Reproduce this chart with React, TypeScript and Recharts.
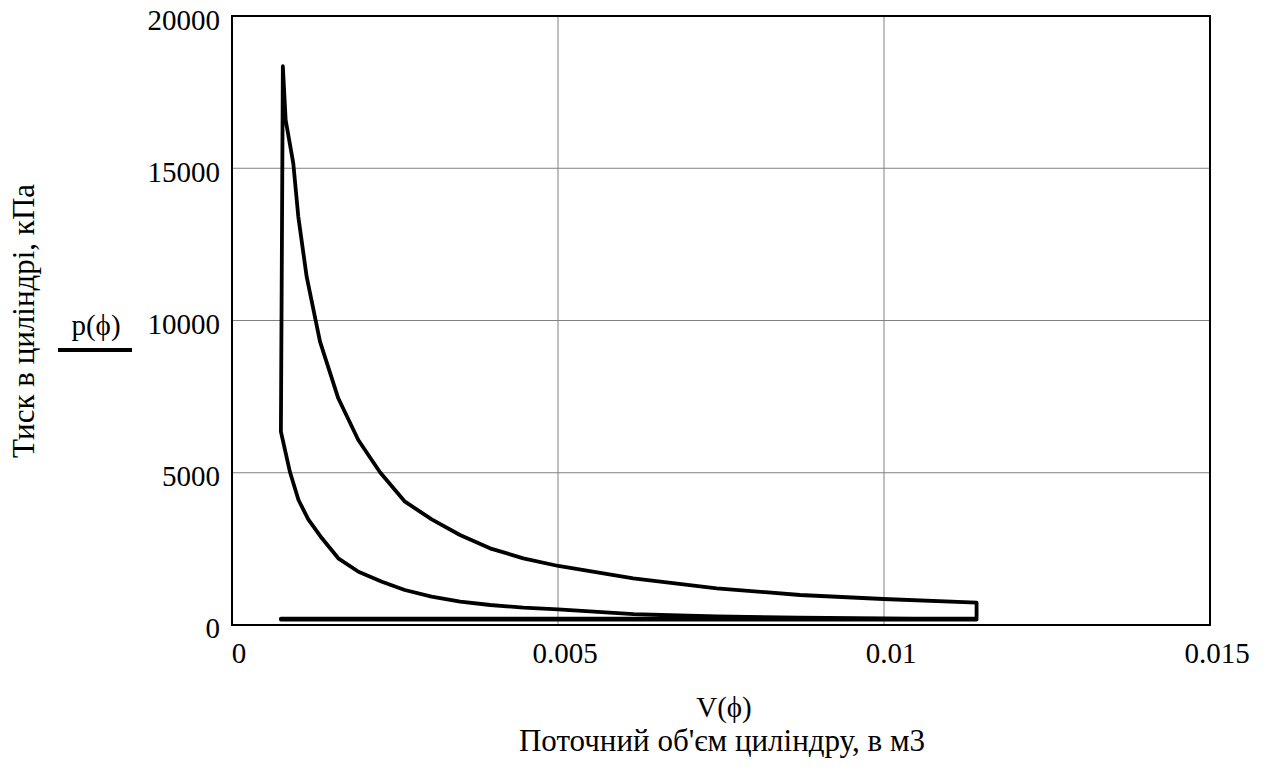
import React from "react";
import {
  LineChart,
  Line,
  XAxis,
  YAxis,
  CartesianGrid,
  ReferenceArea,
} from "recharts";

// Volume ticks (m3) and pressure ticks (kPa)
const xTicks = [0, 0.005, 0.01, 0.015];
const yTicks = [0, 5000, 10000, 15000, 20000];

// Intake stroke
const intakeV = [0.00075, 0.01142];
const intakeP = [180, 180];

// Compression stroke (from V max to V min)
const compressionV = [
  0.01142, 0.01, 0.0087, 0.00743, 0.00616, 0.005, 0.00447, 0.00396, 0.0035,
  0.00306, 0.00265, 0.0023, 0.00194, 0.00163, 0.00138, 0.00117, 0.00102,
  0.00089, 0.00075,
];
const compressionP = [
  190, 220, 245, 280, 360, 515, 568, 657, 765, 929, 1149, 1422, 1750, 2190,
  2847, 3470, 4105, 5015, 6350,
];

// Combustion + expansion stroke
const expansionV = [
  0.00078, 0.000823, 0.00094, 0.001017, 0.001145, 0.00135, 0.00163,
  0.001937, 0.00227, 0.002653, 0.003063, 0.003497, 0.003957, 0.004468,
  0.005005, 0.006155, 0.007434, 0.008712, 0.00999, 0.01142,
];
const expansionP = [
  18350, 16585, 15160, 13410, 11440, 9304, 7445, 6076, 5015, 4050, 3470,
  2956, 2518, 2190, 1938, 1532, 1204, 985, 854, 733,
];

// Exhaust stroke
const exhaustV = [0.01142, 0.00075];
const exhaustP = [210, 210];

const toPoints = (vs: number[], ps: number[]) =>
  vs.map((v, i) => ({ v, p: ps[i] }));

const cycle = [
  ...toPoints(intakeV, intakeP),
  ...toPoints(compressionV, compressionP),
  ...toPoints(expansionV, expansionP),
  ...toPoints(exhaustV, exhaustP),
];

const FONT =
  '"Times New Roman", "Liberation Serif", Tinos, "Nimbus Roman", FreeSerif, Times, "DejaVu Serif", serif';
const FS = 29;
const TFS = 31;
const textStyle = { fontFamily: FONT };

const YLabel = () => (
  <g>
    <text
      x={34}
      y={321}
      transform="rotate(-90, 34, 321)"
      textAnchor="middle"
      style={textStyle}
      fontSize={TFS}
      fill="#000"
    >
      Тиск в циліндрі, кПа
    </text>
    <text
      x={96}
      y={335}
      textAnchor="middle"
      style={textStyle}
      fontSize={FS}
      fill="#000"
    >
      p(ϕ)
    </text>
    <line x1={58} y1={350} x2={132} y2={350} stroke="#000" strokeWidth={4} />
  </g>
);

const XLabel = () => (
  <g>
    <text
      x={724}
      y={717}
      textAnchor="middle"
      style={textStyle}
      fontSize={FS}
      fill="#000"
    >
      V(ϕ)
    </text>
    <text
      x={722}
      y={751}
      textAnchor="middle"
      style={textStyle}
      fontSize={TFS}
      fill="#000"
    >
      Поточний об'єм циліндру, в м3
    </text>
  </g>
);

export default function App() {
  return (
    <div
      style={{
        position: "absolute",
        left: 0,
        top: 0,
        background: "#fff",
        fontFamily: FONT,
      }}
    >
      <LineChart
        width={1273}
        height={778}
        data={cycle}
        margin={{ top: 16, right: 63, bottom: 113, left: 132 }}
        style={textStyle}
      >
        <CartesianGrid stroke="#808080" strokeWidth={1} />
        <XAxis
          dataKey="v"
          type="number"
          domain={[0, 0.015]}
          ticks={xTicks}
          allowDataOverflow
          height={40}
          tickLine={false}
          tickSize={6}
          tickMargin={11}
          axisLine={{ stroke: "#000", strokeWidth: 2 }}
          tick={{
            fontSize: FS,
            fill: "#000",
            fontFamily: FONT,
            style: textStyle,
            dx: 7,
          }}
          label={{ content: () => <XLabel /> }}
        />
        <YAxis
          dataKey="p"
          type="number"
          domain={[0, 20000]}
          ticks={yTicks}
          allowDataOverflow
          width={100}
          tickLine={false}
          tickSize={6}
          tickMargin={6}
          axisLine={{ stroke: "#000", strokeWidth: 2 }}
          tick={{
            fontSize: FS,
            fill: "#000",
            fontFamily: FONT,
            style: textStyle,
            dy: 3,
          }}
          label={{ content: () => <YLabel /> }}
        />
        <ReferenceArea
          x1={0}
          x2={0.015}
          y1={0}
          y2={20000}
          fill="none"
          fillOpacity={0}
          stroke="#000"
          strokeWidth={2}
          ifOverflow="visible"
        />
        <Line
          dataKey="p"
          type="linear"
          stroke="#000"
          strokeWidth={3.8}
          dot={false}
          isAnimationActive={false}
          strokeLinejoin="round"
          strokeLinecap="round"
        />
      </LineChart>
    </div>
  );
}
